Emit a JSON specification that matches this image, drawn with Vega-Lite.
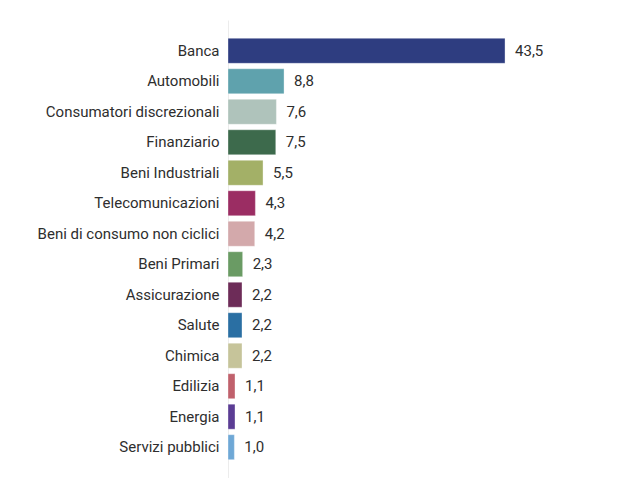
{
  "$schema": "https://vega.github.io/schema/vega-lite/v6.json",
  "autosize": {"type": "none"},
  "padding": {"left": 228, "top": 20, "right": 0, "bottom": 0},
  "width": 370,
  "height": 458,
  "background": "white",
  "config": {
    "view": {"stroke": null},
    "font": "Roboto",
    "locale": {"number": {"decimal": ",", "thousands": ".", "grouping": [3], "currency": ["", " €"]}}
  },
  "data": {
    "values": [
      {"settore": "Banca", "valore": 43.5},
      {"settore": "Automobili", "valore": 8.8},
      {"settore": "Consumatori discrezionali", "valore": 7.6},
      {"settore": "Finanziario", "valore": 7.5},
      {"settore": "Beni Industriali", "valore": 5.5},
      {"settore": "Telecomunicazioni", "valore": 4.3},
      {"settore": "Beni di consumo non ciclici", "valore": 4.2},
      {"settore": "Beni Primari", "valore": 2.3},
      {"settore": "Assicurazione", "valore": 2.2},
      {"settore": "Salute", "valore": 2.2},
      {"settore": "Chimica", "valore": 2.2},
      {"settore": "Edilizia", "valore": 1.1},
      {"settore": "Energia", "valore": 1.1},
      {"settore": "Servizi pubblici", "valore": 1.0}
    ]
  },
  "encoding": {
    "y": {
      "field": "settore",
      "type": "nominal",
      "sort": null,
      "scale": {"paddingInner": 0.18, "paddingOuter": 0.6},
      "axis": {
        "title": null,
        "ticks": false,
        "domain": true,
        "domainColor": "#ececec",
        "domainWidth": 1,
        "labelPadding": 9,
        "labelFontSize": 15,
        "labelColor": "#2e2e2e",
        "labelLimit": 300
      }
    },
    "x": {
      "field": "valore",
      "type": "quantitative",
      "scale": {"domain": [0, 58.1], "nice": false},
      "axis": null
    }
  },
  "layer": [
    {
      "mark": {"type": "bar", "stroke": "white", "strokeOpacity": 0.35, "strokeWidth": 1},
      "encoding": {
        "color": {
          "field": "settore",
          "type": "nominal",
          "legend": null,
          "scale": {
            "domain": ["Banca", "Automobili", "Consumatori discrezionali", "Finanziario", "Beni Industriali", "Telecomunicazioni", "Beni di consumo non ciclici", "Beni Primari", "Assicurazione", "Salute", "Chimica", "Edilizia", "Energia", "Servizi pubblici"],
            "range": ["#2e3d80", "#5fa2ad", "#afc3bb", "#3d6a4c", "#a3b067", "#9b2d63", "#d3a9ab", "#6a9b64", "#6d2c58", "#2a6fa3", "#c6c49a", "#c0616c", "#5b3d94", "#6fa8d6"]
          }
        }
      }
    },
    {
      "mark": {"type": "text", "align": "left", "baseline": "middle", "dx": 10, "fontSize": 15, "color": "#2e2e2e"},
      "encoding": {
        "text": {"field": "valore", "type": "quantitative", "format": ".1f"}
      }
    }
  ]
}
